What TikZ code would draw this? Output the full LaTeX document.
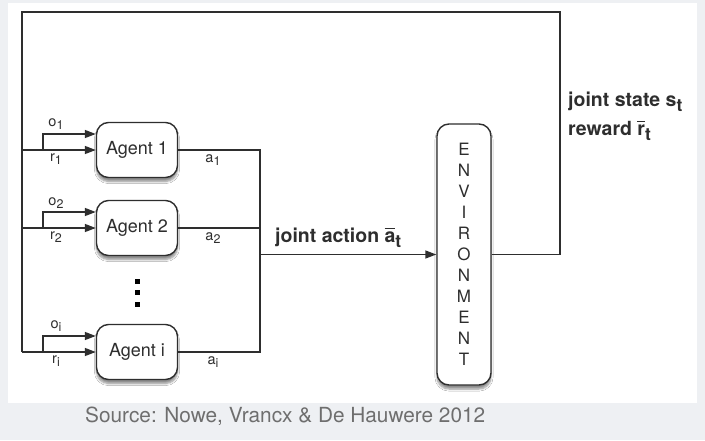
\documentclass[tikz,border=0pt]{standalone}
\usepackage{fontspec}
\setmainfont{TeX Gyre Heros}
\usepackage{amsmath}
\usetikzlibrary{arrows.meta,shadows.blur}
\definecolor{ln}{HTML}{2E2E2E}
\definecolor{bgg}{HTML}{EEF0F3}
\definecolor{srcg}{HTML}{6E6E6E}
\newcommand{\lsub}[1]{\raisebox{-0.5ex}{\fontsize{12.5}{13}\selectfont #1}}
\newcommand{\bsub}[1]{\raisebox{-0.55ex}{\fontsize{17.5}{18}\selectfont #1}}
\newcommand{\obar}[1]{$\overline{\text{#1}}$}
\begin{document}
\begin{tikzpicture}[x=1pt,y=-1pt,
  wire/.style={draw=ln,line width=1.4pt},
  arr/.style={wire,-{Triangle[length=11pt,width=8pt]}},
  shd/.style={blur shadow={shadow xshift=0pt,shadow yshift=-4pt,shadow blur steps=6,shadow opacity=45}},
  agentbox/.style={draw=ln,line width=1.4pt,rounded corners=12pt,fill=white,
    minimum width=81pt,minimum height=55pt,inner sep=0pt,
    font=\fontsize{18}{20}\selectfont,text=ln,shd},
  envbox/.style={draw=ln,line width=1.4pt,rounded corners=12pt,fill=white,
    minimum width=54pt,minimum height=261pt,inner sep=0pt,align=center,
    font=\fontsize{17}{21}\selectfont,text=ln,shd},
  lab/.style={font=\fontsize{14.5}{15}\selectfont,text=ln,inner sep=0pt},
  blab/.style={font=\bfseries\fontsize{19.5}{22}\selectfont,text=ln,inner sep=0pt,anchor=base west},
  dotsq/.style={fill=black,minimum size=5pt,inner sep=0pt}
]
\useasboundingbox (0,0) rectangle (705,440);
\fill[bgg] (0,0) rectangle (705,440);
\fill[white] (8,3) rectangle (697,403);

% agents and environment
\node[agentbox] (ag1) at (137,150) {Agent 1};
\node[agentbox] (ag2) at (137,228) {Agent 2};
\node[agentbox] (agi) at (137,352) {Agent i};
\node[envbox] (env) at (464,254.5) {E\\N\\V\\I\\R\\O\\N\\M\\E\\N\\T};

% dots
\node[dotsq] (d1) at (137,281) {};
\node[dotsq] (d2) at (137,292) {};
\node[dotsq] (d3) at (137,304) {};

% feedback loop
\coordinate (er) at (560,254.5);
\coordinate (tr) at (560,12);
\coordinate (tl) at (22,12);
\draw[wire] (env.east) -- (er) -- (tr) -- (tl) -- (tl |- agi.west);

% inputs to agents
\foreach \a in {ag1,ag2,agi}{
  \coordinate (b-\a) at (43,0 |- \a.west);
  \draw[arr] (tl |- \a.west) -- (\a.west);
  \draw[arr] (b-\a) |- ([yshift=16pt]\a.west);
}

% actions
\coordinate (jtop) at (260,0 |- ag1.east);
\coordinate (jbot) at (260,0 |- agi.east);
\draw[wire] (ag1.east) -- (jtop) -- (jbot) -- (agi.east);
\draw[wire] (ag2.east) -- (ag2.east -| jtop);
\draw[arr] (jtop |- env.west) -- (env.west);

% small labels
\node[lab] (lo1) at (56,124) {o\lsub{1}};
\node[lab] (lr1) at (56,159) {r\lsub{1}};
\node[lab] (la1) at (213,160) {a\lsub{1}};
\node[lab] (lo2) at (56,203) {o\lsub{2}};
\node[lab] (lr2) at (56,237) {r\lsub{2}};
\node[lab] (la2) at (213,238) {a\lsub{2}};
\node[lab] (loi) at (56,326) {o\lsub{i}};
\node[lab] (lri) at (56,361) {r\lsub{i}};
\node[lab] (lai) at (213,362) {a\lsub{i}};

% bold labels
\node[blab] (ja) at (275,242) {joint action \obar{a}\bsub{t}};
\node[blab] (js) at (568,106) {joint state s\bsub{t}};
\node[blab] (rw) at (568,135) {reward \obar{r}\bsub{t}};

% source
\node[anchor=base west,inner sep=0pt,font=\fontsize{20.8}{24}\selectfont,text=srcg] (src) at (85,422) {Source: Nowe, Vrancx \& De Hauwere 2012};
\end{tikzpicture}
\end{document}
